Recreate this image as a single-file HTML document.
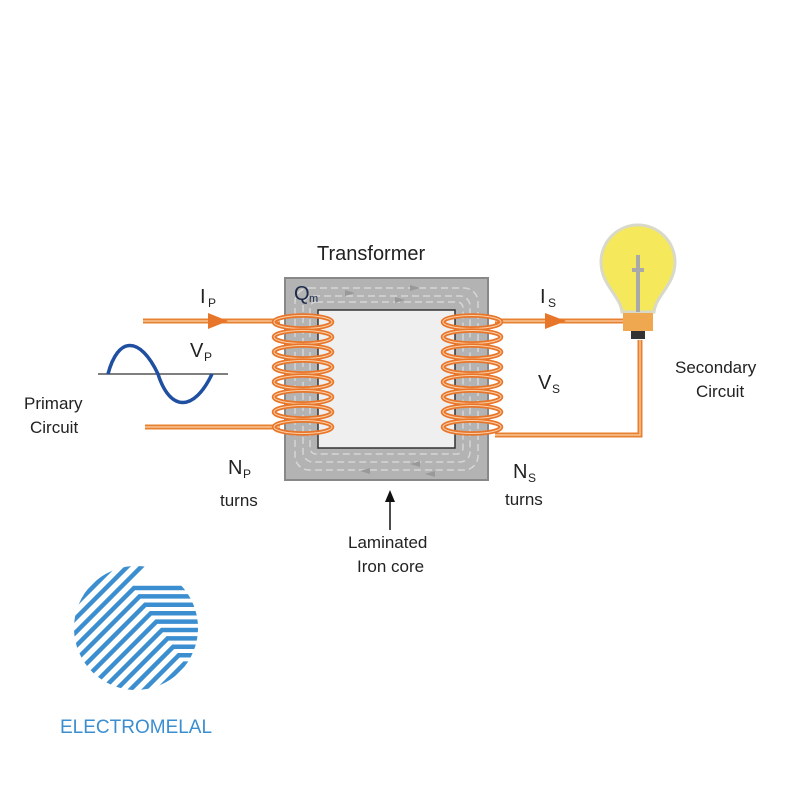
<!DOCTYPE html>
<html><head><meta charset="utf-8"><style>body{margin:0;background:#fff}svg{display:block}text{font-family:"Liberation Sans",sans-serif}</style></head><body>
<svg width="800" height="800" viewBox="0 0 800 800" xmlns="http://www.w3.org/2000/svg">
<defs>
<clipPath id="lc"><circle cx="136" cy="628" r="62"/></clipPath>
<g id="turn"><ellipse cx="0" cy="0" rx="29" ry="6.5" fill="none" stroke="#e8762a" stroke-width="4.5"/><ellipse cx="0" cy="0" rx="29" ry="6.5" fill="none" stroke="#fbd0a8" stroke-width="1"/></g>
</defs>
<g stroke="#e8812f" stroke-width="5" fill="none">
<line x1="143" y1="321" x2="280" y2="321"/>
<line x1="145" y1="427" x2="280" y2="427"/>
<line x1="495" y1="321" x2="630" y2="321"/>
<polyline points="495,435 640,435 640,340"/>
</g>
<g stroke="#fcd3ae" stroke-width="1.2" fill="none">
<line x1="143" y1="321" x2="280" y2="321"/>
<line x1="145" y1="427" x2="280" y2="427"/>
<line x1="495" y1="321" x2="630" y2="321"/>
<polyline points="495,435 640,435 640,340"/>
</g>
<polygon points="208,313 228,321 208,329" fill="#e8762a"/>
<polygon points="545,313 566,321 545,329" fill="#e8762a"/>
<rect x="285" y="278" width="203" height="202" fill="#b3b3b3" stroke="#888" stroke-width="2"/>
<rect x="318" y="310" width="137" height="138" fill="#efefef" stroke="#333" stroke-width="1.5"/>
<g fill="none" stroke="#d6d6d6" stroke-width="1.5" stroke-dasharray="7,4">
<rect x="295" y="288" width="183" height="182" rx="14"/>
<rect x="303" y="296" width="167" height="166" rx="10"/>
<rect x="310" y="302" width="153" height="152" rx="6"/>
</g>
<g fill="#999"><polygon points="345,290 355,293 345,296"/><polygon points="395,297 405,300 395,303"/><polygon points="410,285 420,288 410,291"/>
<polygon points="420,461 410,464 420,467"/><polygon points="370,468 360,471 370,474"/><polygon points="435,471 425,474 435,477"/></g>
<text x="294" y="300" font-size="20" fill="#1c2a4a">Q</text><text x="309" y="302" font-size="11" fill="#1c2a4a">m</text>
<g transform="translate(303,322)">
<use href="#turn" y="0"/><use href="#turn" y="15"/><use href="#turn" y="30"/><use href="#turn" y="45"/><use href="#turn" y="60"/><use href="#turn" y="75"/><use href="#turn" y="90"/><use href="#turn" y="105"/></g>
<g transform="translate(472,322)">
<use href="#turn" y="0"/><use href="#turn" y="15"/><use href="#turn" y="30"/><use href="#turn" y="45"/><use href="#turn" y="60"/><use href="#turn" y="75"/><use href="#turn" y="90"/><use href="#turn" y="105"/></g>
<line x1="98" y1="374" x2="228" y2="374" stroke="#555" stroke-width="1.5"/>
<path d="M108,374 C118,336 140,336 158,374 C170,412 194,412 212,374" fill="none" stroke="#1f4fa0" stroke-width="3.5"/>
<path d="M622,312 C620,295 601,285 601,262 A37,37 0 1 1 675,262 C675,285 656,295 654,312 Z" fill="#f5e85a" stroke="#d9d9c9" stroke-width="3"/>
<path d="M638,275 L638,312 M632,270 L644,270 M638,255 L638,285" stroke="#a9a9a9" stroke-width="4"/>
<rect x="623" y="313" width="30" height="18" fill="#f0a850"/>
<rect x="631" y="331" width="14" height="8" fill="#333"/>
<line x1="390" y1="500" x2="390" y2="530" stroke="#111" stroke-width="1.5"/>
<polygon points="385,502 390,490 395,502" fill="#111"/>
<g fill="#222" font-size="17">
<text x="317" y="260" font-size="20">Transformer</text>
<text x="200" y="303" font-size="20">I</text><text x="208" y="307" font-size="12">P</text>
<text x="190" y="357" font-size="20">V</text><text x="204" y="361" font-size="12">P</text>
<text x="540" y="303" font-size="20">I</text><text x="548" y="307" font-size="12">S</text>
<text x="538" y="389" font-size="20">V</text><text x="552" y="393" font-size="12">S</text>
<text x="228" y="474" font-size="20">N</text><text x="243" y="478" font-size="12">P</text>
<text x="220" y="506">turns</text>
<text x="513" y="478" font-size="20">N</text><text x="528" y="482" font-size="12">S</text>
<text x="505" y="505">turns</text>
<text x="24" y="409">Primary</text><text x="30" y="433">Circuit</text>
<text x="675" y="373">Secondary</text><text x="696" y="397">Circuit</text>
<text x="348" y="548">Laminated</text><text x="357" y="572">Iron core</text>
</g>
<g clip-path="url(#lc)" stroke="#3b8fd0" stroke-width="4.5" fill="none">
<path d="M-40,720 L140,540"/>
<path d="M-26,720 L154,540"/>
<path d="M-12,720 L168,540"/>
<path d="M2,720 L134,588 L210,588"/>
<path d="M16,720 L139.6,596.4 L210,596.4"/>
<path d="M30,720 L145.2,604.8 L210,604.8"/>
<path d="M44,720 L150.8,613.2 L210,613.2"/>
<path d="M58,720 L156.4,621.6 L210,621.6"/>
<path d="M72,720 L162,630 L210,630"/>
<path d="M86,720 L167.6,638.4 L210,638.4"/>
<path d="M100,720 L173.2,646.8 L210,646.8"/>
<path d="M114,720 L178.8,655.2 L210,655.2"/>
<path d="M128,720 L184.4,663.6 L210,663.6"/>
<path d="M142,720 L230,632"/>
<path d="M156,720 L244,632"/>
<path d="M170,720 L258,632"/>
</g>
<text x="60" y="733" font-size="19" fill="#3b8fd0">ELECTROMELAL</text>
</svg>
</body></html>
